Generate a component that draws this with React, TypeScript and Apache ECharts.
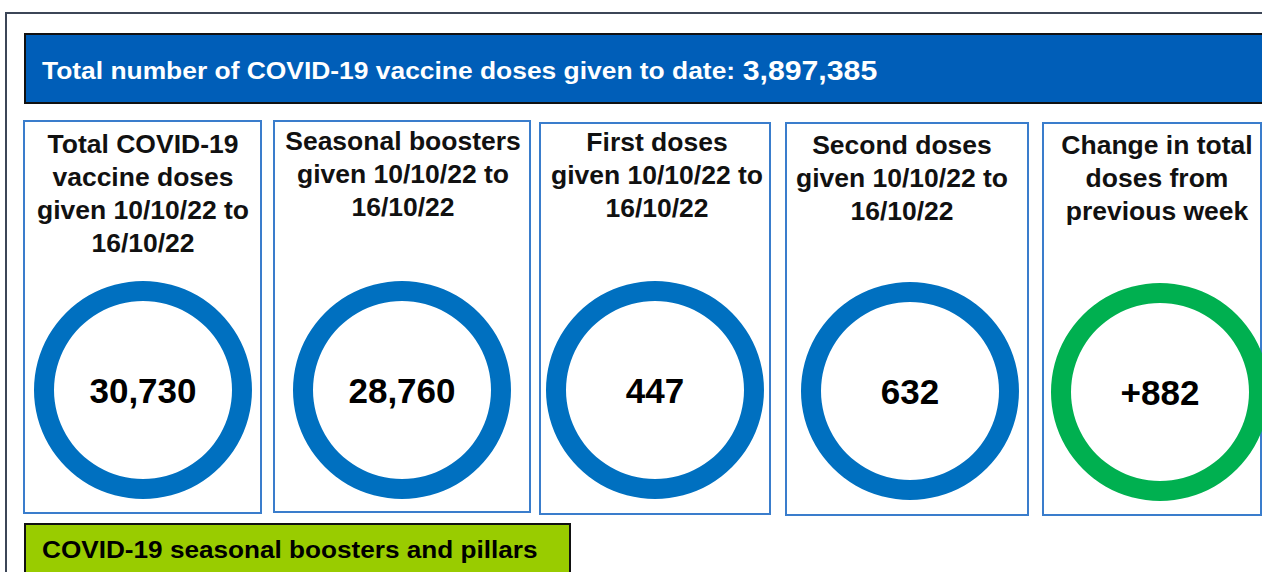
import React, { useEffect, useRef } from "react";
import * as echarts from "echarts";

// ---- data ----
const bannerLabel = "Total number of COVID-19 vaccine doses given to date: ";
const totalDoses = 3897385;
const cardTitles = [
  "Total COVID-19\nvaccine doses\ngiven 10/10/22 to\n16/10/22",
  "Seasonal boosters\ngiven 10/10/22 to\n16/10/22",
  "First doses\ngiven 10/10/22 to\n16/10/22",
  "Second doses\ngiven 10/10/22 to\n16/10/22",
  "Change in total\ndoses from\nprevious week",
];
const cardValues = [30730, 28760, 447, 632, 882];
const cardSigns = ["", "", "", "", "+"];
const sectionTitle = "COVID-19 seasonal boosters and pillars";

// ---- layout (positions/styles only) ----
const cards = [
  { x: 24, y: 121, w: 237, h: 392, tx: 143, ty: 128, cx: 143, cy: 390, color: "#0070C0" },
  { x: 274, y: 121, w: 256, h: 391, tx: 403, ty: 125, cx: 402, cy: 390, color: "#0070C0" },
  { x: 540, y: 123, w: 230, h: 391, tx: 657, ty: 126, cx: 655, cy: 390, color: "#0070C0" },
  { x: 786, y: 123, w: 242, h: 392, tx: 902, ty: 129, cx: 910, cy: 391, color: "#0070C0" },
  { x: 1043, y: 123, w: 218, h: 392, tx: 1157, ty: 129, cx: 1160, cy: 392, color: "#00B050" },
];

const FONT = "Liberation Sans, Arial, sans-serif";

export default function App() {
  const ref = useRef<HTMLDivElement>(null);
  useEffect(() => {
    if (!ref.current) return;
    const chart = echarts.init(ref.current, undefined, { renderer: "svg" });
    const fmt = (v: number) => v.toLocaleString("en-GB");

    const graphics: any[] = [
      // outer frame
      {
        type: "rect",
        shape: { x: 6, y: 13, width: 1300, height: 600 },
        style: { fill: "#ffffff", stroke: "#3c4657", lineWidth: 2 },
        z: 0,
      },
      // banner
      {
        type: "rect",
        shape: { x: 25, y: 34, width: 1260, height: 69 },
        style: { fill: "#005EB8", stroke: "#111111", lineWidth: 2 },
        z: 1,
      },
      {
        type: "text",
        x: 42,
        y: 70,
        scaleX: 1.1,
        style: {
          text: `{a|${bannerLabel}}{b|${fmt(totalDoses)}}`,
          textVerticalAlign: "middle",
          rich: {
            a: { fontSize: 24, fontWeight: "bold", fill: "#ffffff", fontFamily: FONT },
            b: { fontSize: 27.5, fontWeight: "bold", fill: "#ffffff", fontFamily: FONT },
          },
        },
        z: 2,
      },
      // section title box
      {
        type: "rect",
        shape: { x: 25, y: 524, width: 545, height: 60 },
        style: { fill: "#99CC00", stroke: "#111111", lineWidth: 2 },
        z: 1,
      },
      {
        type: "text",
        x: 42,
        y: 549,
        scaleX: 1.09,
        style: {
          text: sectionTitle,
          fontSize: 24,
          fontWeight: "bold",
          fill: "#000000",
          fontFamily: FONT,
          textVerticalAlign: "middle",
        },
        z: 2,
      },
    ];

    cards.forEach((c, i) => {
      graphics.push({
        type: "rect",
        shape: { x: c.x, y: c.y, width: c.w, height: c.h },
        style: { fill: "#ffffff", stroke: "#3a7dcc", lineWidth: 2 },
        z: 1,
      });
      graphics.push({
        type: "text",
        x: c.tx,
        y: c.ty,
        scaleX: 1.06,
        style: {
          text: cardTitles[i],
          fontSize: 25,
          lineHeight: 33,
          fontWeight: "bold",
          fill: "#111111",
          fontFamily: FONT,
          textAlign: "center",
          textVerticalAlign: "top",
        },
        z: 2,
      });
    });

    const series = cards.map((c, i) => ({
      type: "pie",
      center: [c.cx, c.cy],
      radius: [89, 109],
      silent: true,
      z: 5,
      startAngle: 90,
      label: {
        show: true,
        position: "center",
        formatter: () => cardSigns[i] + fmt(cardValues[i]),
        fontSize: 35,
        fontWeight: "bold",
        color: "#000000",
        fontFamily: FONT,
      },
      labelLine: { show: false },
      itemStyle: { color: c.color, borderWidth: 0 },
      emphasis: { disabled: true },
      data: [{ value: Math.abs(cardValues[i]), name: cardTitles[i] }],
    }));

    chart.setOption({
      animation: false,
      graphic: { elements: graphics },
      series,
    });
    return () => chart.dispose();
  }, []);

  return (
    <div
      ref={ref}
      style={{ position: "fixed", left: 0, top: 0, width: 1262, height: 572, background: "#ffffff" }}
    />
  );
}
